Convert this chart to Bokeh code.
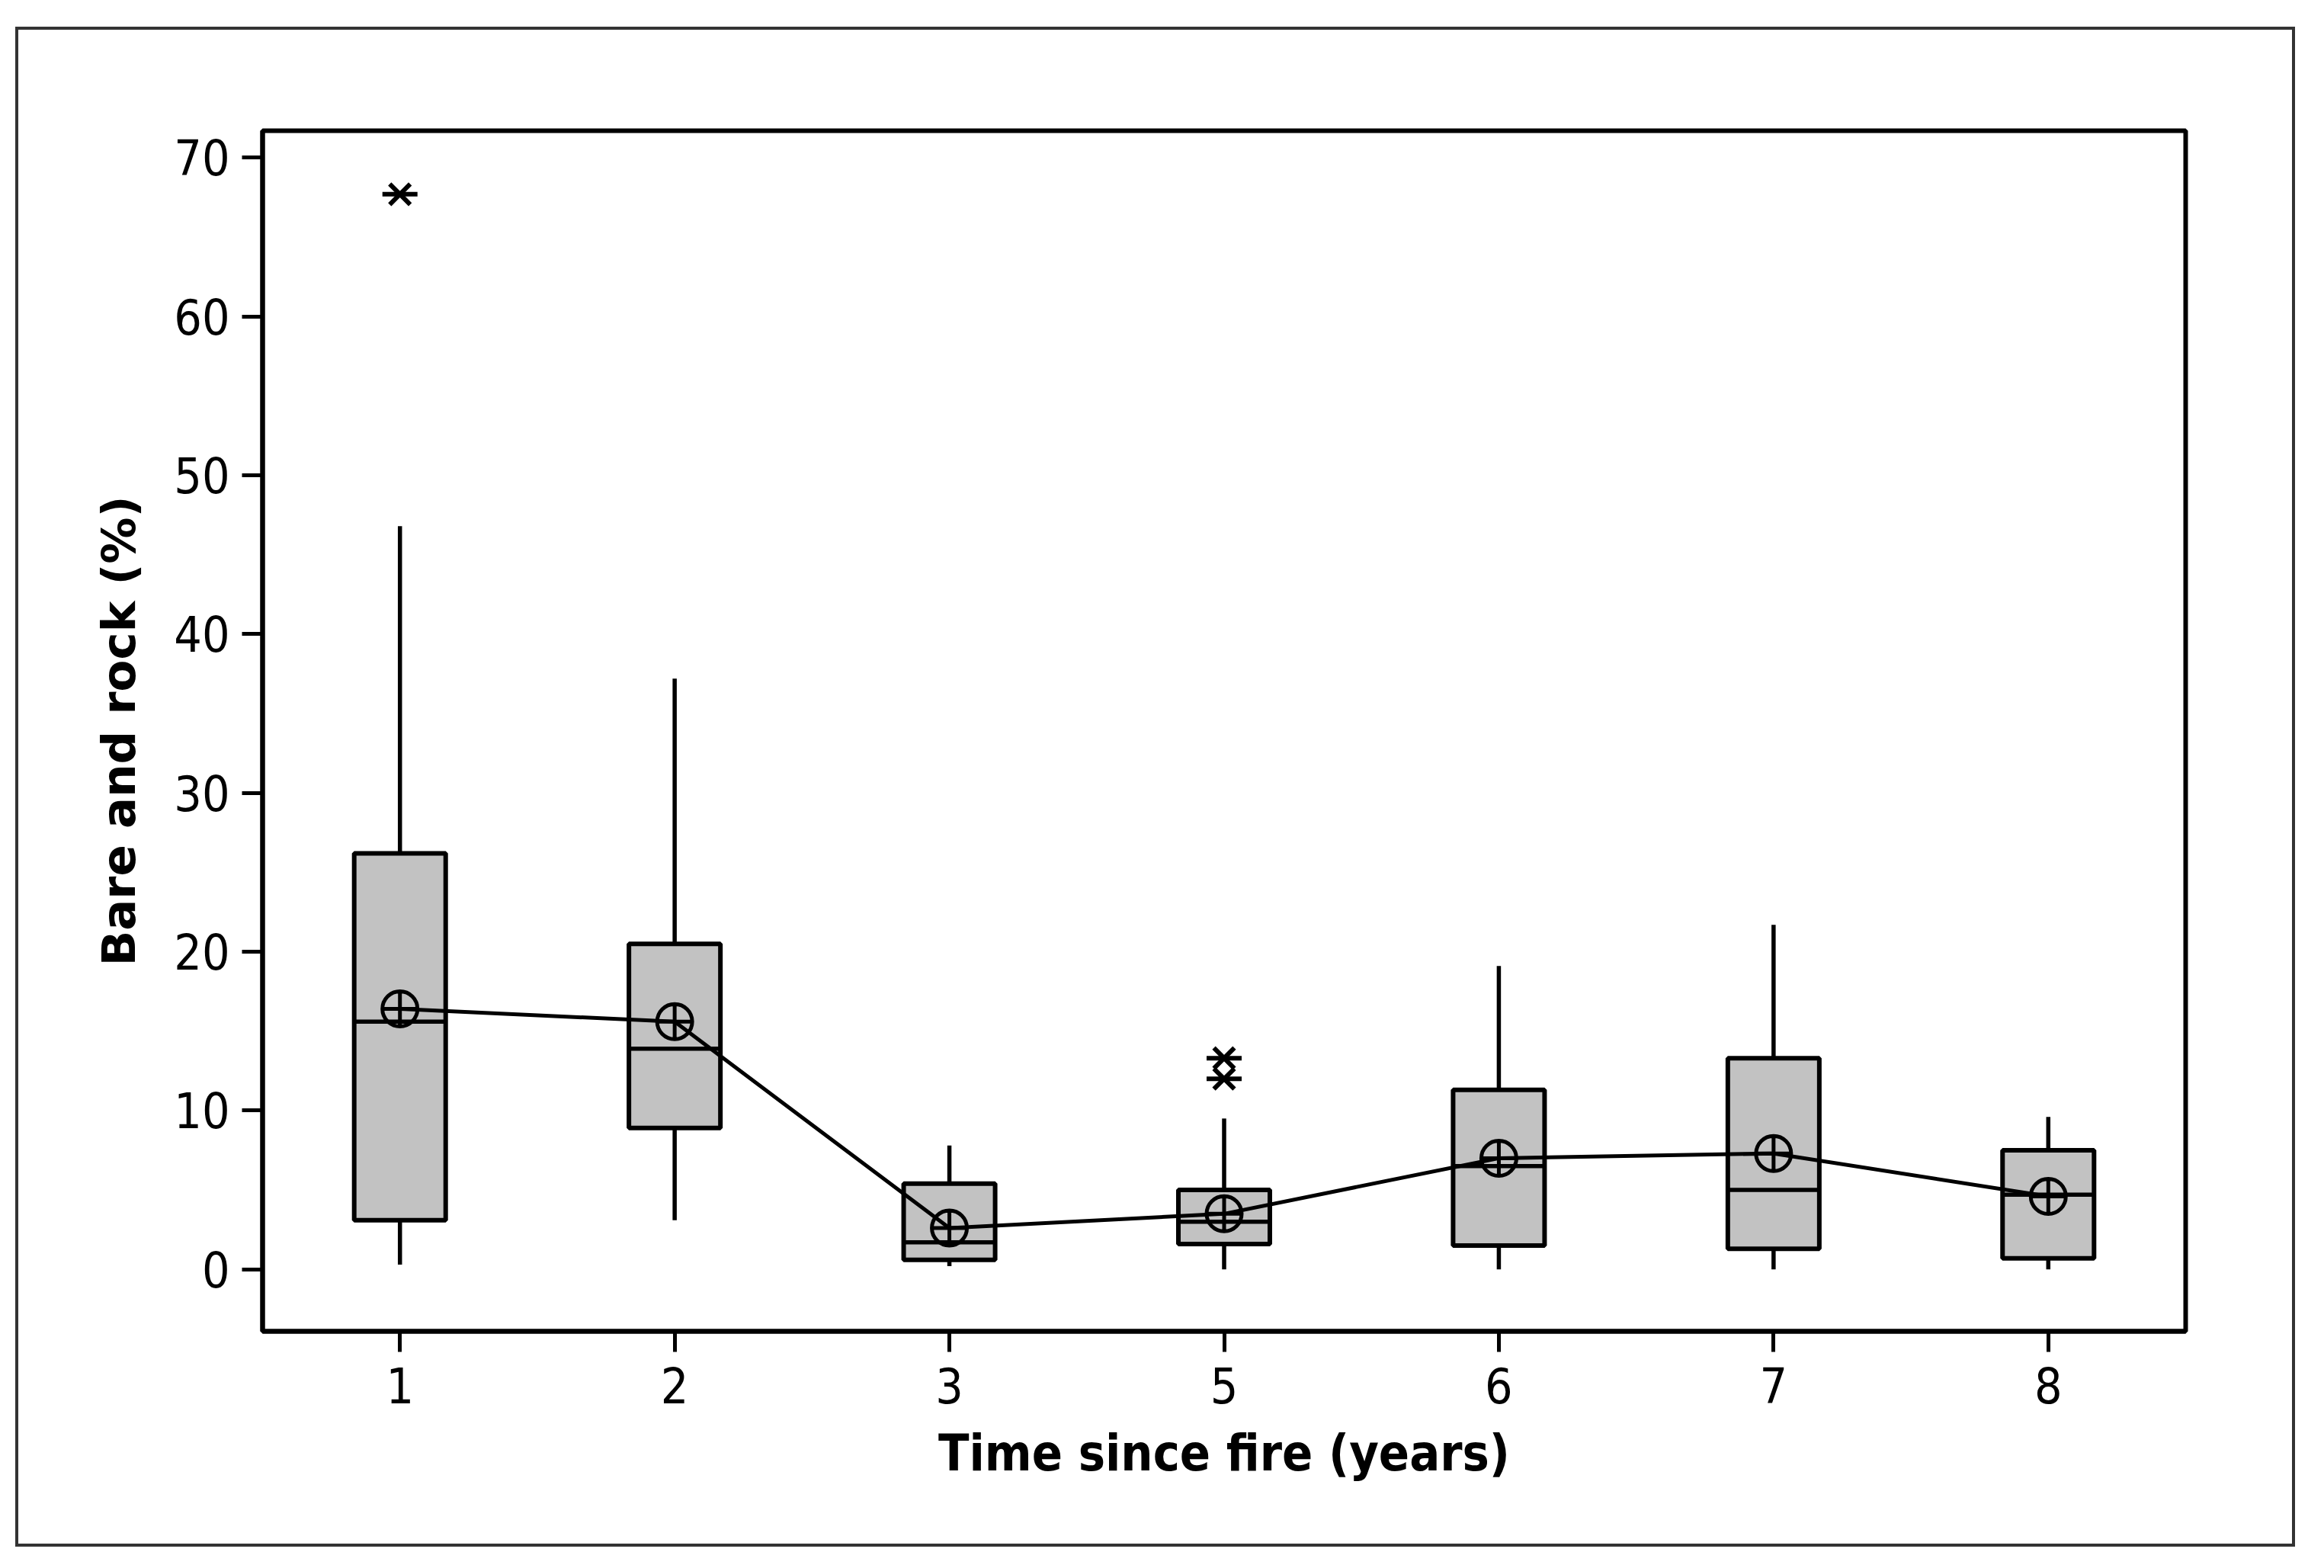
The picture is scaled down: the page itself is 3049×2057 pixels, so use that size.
from bokeh.plotting import figure
from bokeh.models import Range1d, FixedTicker
from bokeh.layouts import column
from bokeh.embed import file_html
from bokeh.resources import INLINE

# ---- data ----
categories = ["1", "2", "3", "5", "6", "7", "8"]
q1 = [3.1, 8.9, 0.6, 1.6, 1.5, 1.3, 0.7]
median = [15.6, 13.9, 1.7, 3.0, 6.5, 5.0, 4.7]
q3 = [26.2, 20.5, 5.4, 5.0, 11.3, 13.3, 7.5]
whisker_low = [0.3, 3.1, 0.2, 0.0, 0.0, 0.0, 0.0]
whisker_high = [46.8, 37.2, 7.8, 9.5, 19.1, 21.7, 9.6]
mean = [16.4, 15.6, 2.6, 3.5, 7.0, 7.3, 4.6]
outlier_cat = ["1", "5", "5"]
outlier_val = [67.7, 13.3, 12.0]
y_ticks = [0, 10, 20, 30, 40, 50, 60, 70]

pos = {c: i + 1 for i, c in enumerate(categories)}
xs = [pos[c] for c in categories]
ox = [pos[c] for c in outlier_cat]
BOX_W = 0.333

p = figure(width=2983, height=1986,
           x_range=Range1d(0.5, len(categories) + 0.5),
           y_range=Range1d(-3.9, 71.7),
           output_backend="svg", toolbar_location=None,
           min_border_left=320, min_border_right=140,
           min_border_top=132, min_border_bottom=279)

p.background_fill_color = "white"
p.border_fill_color = "white"
p.outline_line_color = "black"
p.outline_line_width = 6
p.xgrid.visible = False
p.ygrid.visible = False

# whiskers
p.segment(x0=xs, y0=q3, x1=xs, y1=whisker_high, line_color="black", line_width=5.5)
p.segment(x0=xs, y0=q1, x1=xs, y1=whisker_low, line_color="black", line_width=5.5)

# boxes
p.vbar(x=xs, width=BOX_W, bottom=q1, top=q3, fill_color="#c2c2c2",
       line_color="black", line_width=6)

# medians
p.segment(x0=[x - BOX_W / 2 for x in xs], y0=median,
          x1=[x + BOX_W / 2 for x in xs], y1=median,
          line_color="black", line_width=5.5)

# mean connect line and mean symbols
p.line(xs, mean, line_color="black", line_width=5)
p.scatter(xs, mean, marker="circle_cross", size=46, fill_alpha=0,
          line_color="black", line_width=5)

# outliers (asterisks)
p.scatter(ox, outlier_val, marker="x", size=38, line_color="black", line_width=6)
p.scatter(ox, outlier_val, marker="dash", size=46, line_color="black", line_width=6)

# axes
for ax in (p.xaxis[0], p.yaxis[0]):
    ax.axis_line_color = "black"
    ax.axis_line_width = 6
    ax.major_tick_line_color = "black"
    ax.major_tick_line_width = 5
    ax.major_tick_out = 27
    ax.major_tick_in = 0
    ax.minor_tick_line_color = None
    ax.major_label_text_color = "black"
    ax.major_label_text_font = "DejaVu Sans Condensed"
    ax.major_label_text_font_size = "64px"
    ax.axis_label_text_color = "black"
    ax.axis_label_text_font_style = "bold"

p.xaxis.ticker = FixedTicker(ticks=xs)
p.xaxis.major_label_overrides = {pos[c]: c for c in categories}
p.xaxis.major_label_standoff = 20
p.xaxis.axis_label = "Time since fire (years)"
p.xaxis.axis_label_text_font = "DejaVu Sans Condensed"
p.xaxis.axis_label_text_font_size = "66px"
p.xaxis.axis_label_standoff = 24

p.yaxis.ticker = FixedTicker(ticks=y_ticks)
p.yaxis.major_label_standoff = 16
p.yaxis.axis_label = "Bare and rock (%)"
p.yaxis.axis_label_text_font = "DejaVu Sans"
p.yaxis.axis_label_text_font_size = "61px"
p.yaxis.axis_label_standoff = 34

layout = column(p, margin=(35, 0, 0, 20),
                styles={"border": "4px solid #333333"})

open("out.html", "w").write(file_html(layout, INLINE))
